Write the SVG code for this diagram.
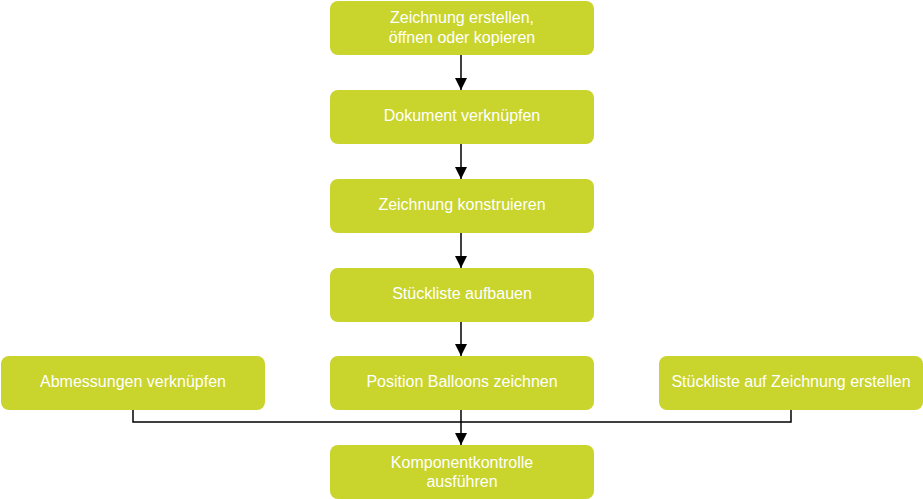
<svg xmlns="http://www.w3.org/2000/svg" width="923" height="499" viewBox="0 0 923 499">
<style>
.box{fill:#c9d42c;}
.t{fill:#ffffff;font-family:"Liberation Sans",Arial,sans-serif;font-size:16px;text-anchor:middle;}
.c{fill:none;stroke:#000;stroke-width:1.5;}
</style>
<defs>
<marker id="ah" markerWidth="12" markerHeight="12" refX="12" refY="6" orient="auto" markerUnits="userSpaceOnUse">
<path d="M0,0 L12,6 L0,12 Z" fill="#000"/>
</marker>
</defs>
<rect width="923" height="499" fill="#fff"/>
<g id="connectors">
<line class="c" x1="461" y1="55" x2="461" y2="90" marker-end="url(#ah)"/>
<line class="c" x1="461" y1="144" x2="461" y2="179" marker-end="url(#ah)"/>
<line class="c" x1="461" y1="233" x2="461" y2="268" marker-end="url(#ah)"/>
<line class="c" x1="461" y1="322" x2="461" y2="356" marker-end="url(#ah)"/>
<line class="c" x1="461" y1="410" x2="461" y2="445" marker-end="url(#ah)"/>
<polyline class="c" points="133,410 133,422 791,422 791,410"/>
</g>
<g id="n1"><rect class="box" x="330" y="1" width="264" height="54" rx="8"/><text class="t" x="462" y="23">Zeichnung erstellen,</text><text class="t" x="462" y="43">öffnen oder kopieren</text></g>
<g id="n2"><rect class="box" x="330" y="90" width="264" height="54" rx="8"/><text class="t" x="462" y="121">Dokument verknüpfen</text></g>
<g id="n3"><rect class="box" x="330" y="179" width="264" height="54" rx="8"/><text class="t" x="462" y="210">Zeichnung konstruieren</text></g>
<g id="n4"><rect class="box" x="330" y="268" width="264" height="54" rx="8"/><text class="t" x="462" y="299">Stückliste aufbauen</text></g>
<g id="n5"><rect class="box" x="330" y="356" width="264" height="54" rx="8"/><text class="t" x="462" y="387">Position Balloons zeichnen</text></g>
<g id="n6"><rect class="box" x="1" y="356" width="264" height="54" rx="8"/><text class="t" x="133" y="387">Abmessungen verknüpfen</text></g>
<g id="n7"><rect class="box" x="659" y="356" width="264" height="54" rx="8"/><text class="t" x="791" y="387">Stückliste auf Zeichnung erstellen</text></g>
<g id="n8"><rect class="box" x="330" y="445" width="264" height="54" rx="8"/><text class="t" x="462" y="468">Komponentkontrolle</text><text class="t" x="462" y="487">ausführen</text></g>
</svg>
